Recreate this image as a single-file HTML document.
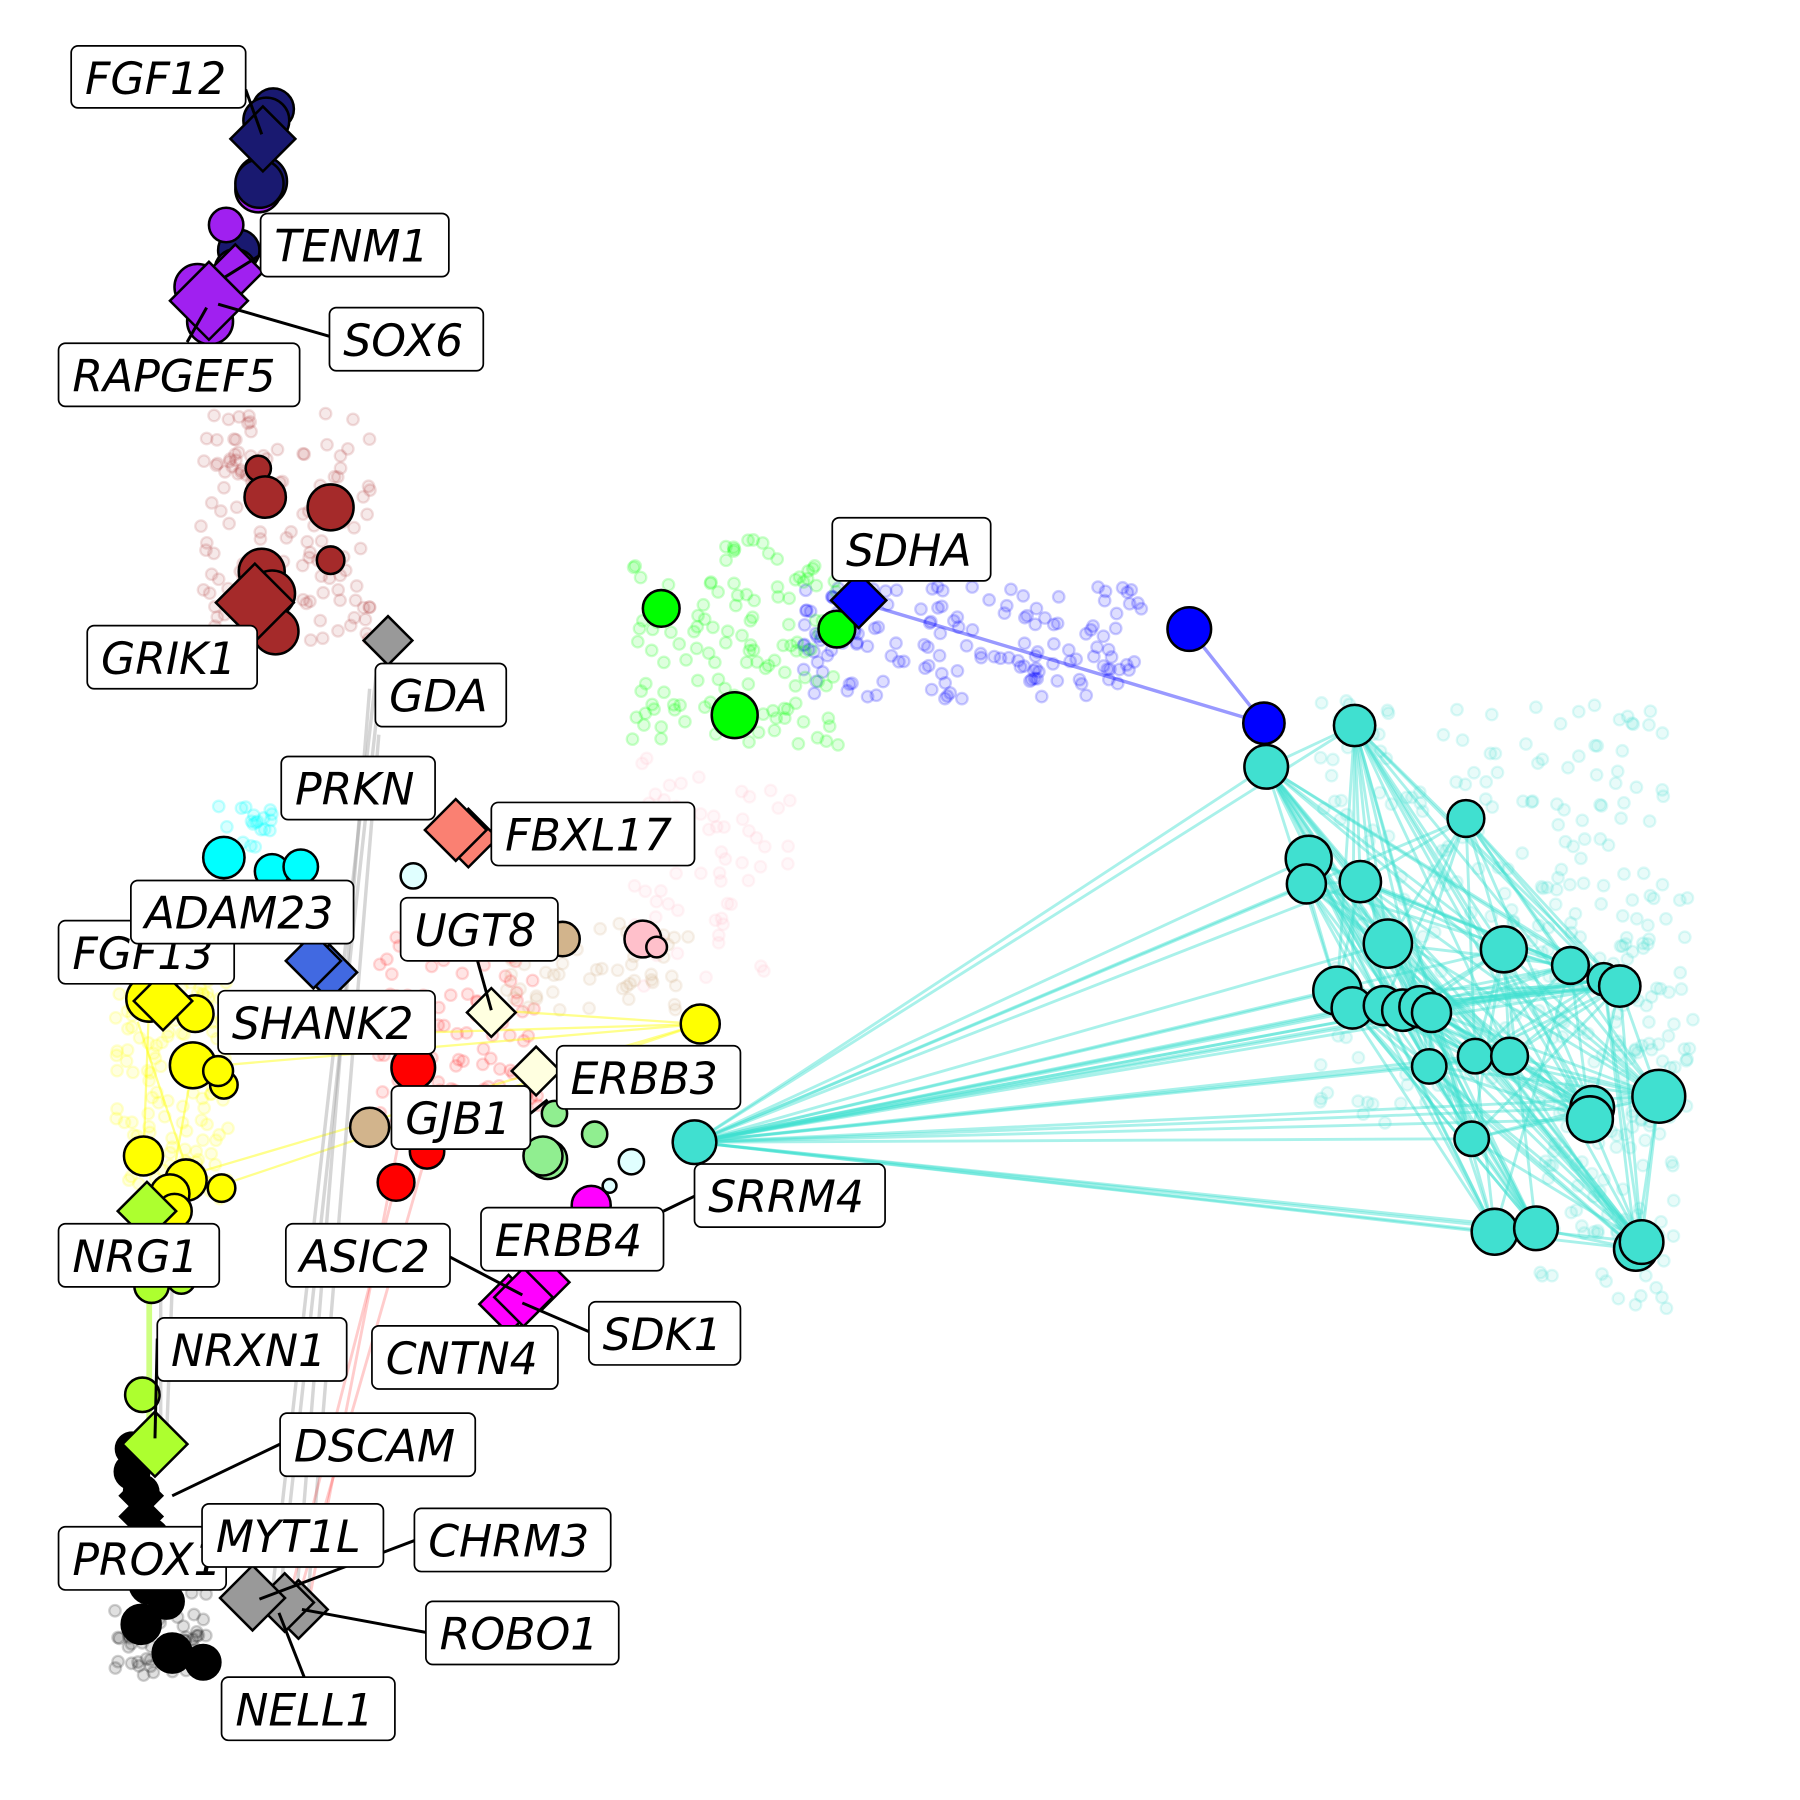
<!DOCTYPE html>
<html><head><meta charset="utf-8"><style>
html,body{margin:0;padding:0;background:#fff;width:1800px;height:1800px;overflow:hidden}
svg{display:block}
.lb rect{fill:#fff;stroke:#000;stroke-width:1.5}
.lb text{font-family:"DejaVu Sans","Liberation Sans",sans-serif;font-style:oblique;font-size:38.5px;fill:#000}
.n{stroke:#000;stroke-width:2.2}
.ld{stroke:#000;stroke-width:2.6;fill:none}
</style></head><body>
<svg id="s" width="1800" height="1800" viewBox="0 0 1568 1568" xmlns="http://www.w3.org/2000/svg">
<g id="faint"></g>
<g stroke="#40e0d0" stroke-opacity="0.45" stroke-width="2.5" id="tq"></g>
<g stroke="#0000ff" stroke-opacity="0.4" stroke-width="3">
<line x1="760" y1="528" x2="1101" y2="630"/><line x1="1036" y1="548" x2="1101" y2="630"/></g>
<g stroke="#ffff00" stroke-opacity="0.45" stroke-width="2">
<line x1="610" y1="892" x2="190" y2="905"/><line x1="610" y1="892" x2="170" y2="930"/><line x1="610" y1="892" x2="430" y2="880"/><line x1="610" y1="892" x2="200" y2="1030"/><line x1="610" y1="892" x2="160" y2="1025"/>
<line x1="130" y1="870" x2="125" y2="1007"/><line x1="168" y1="928" x2="148" y2="1040"/><line x1="120" y1="890" x2="160" y2="1010"/></g>
<g stroke="#999" stroke-opacity="0.4" stroke-width="3">
<line x1="333" y1="580" x2="245" y2="1380"/><line x1="328" y1="585" x2="238" y2="1380"/><line x1="322" y1="600" x2="258" y2="1395"/><line x1="330" y1="640" x2="268" y2="1395"/><line x1="140" y1="1120" x2="140" y2="1250"/><line x1="150" y1="1120" x2="145" y2="1255"/></g>
<g stroke="#ff0000" stroke-opacity="0.2" stroke-width="2.5">
<line x1="345" y1="1030" x2="255" y2="1380"/><line x1="372" y1="1003" x2="262" y2="1385"/><line x1="360" y1="930" x2="270" y2="1390"/></g>
<line x1="130" y1="1120" x2="130" y2="1260" stroke="#adff2f" stroke-opacity="0.6" stroke-width="5"/>
<g class="n">
<circle cx="238" cy="95" r="18" fill="#191970"/><circle cx="232" cy="105" r="20" fill="#191970"/>
<circle cx="228" cy="158" r="22" fill="#191970"/><circle cx="225" cy="165" r="20" fill="#a020f0"/><circle cx="226" cy="160" r="21" fill="#191970"/>
<rect x="209" y="101" width="40" height="40" fill="#191970" transform="rotate(45 229 121)"/>
<circle cx="208" cy="218" r="18" fill="#191970"/><circle cx="197" cy="196" r="15" fill="#a020f0"/>
<circle cx="205" cy="235" r="18" fill="#a020f0"/><circle cx="172" cy="250" r="20" fill="#a020f0"/><circle cx="183" cy="280" r="20" fill="#a020f0"/>
<rect x="188" y="220" width="34" height="34" fill="#a020f0" transform="rotate(45 205 237)"/>
<rect x="158" y="238" width="48" height="48" fill="#a020f0" transform="rotate(45 182 262)"/>
<circle cx="225" cy="408" r="11" fill="#a52a2a"/><circle cx="231" cy="433" r="18" fill="#a52a2a"/><circle cx="288" cy="442" r="20" fill="#a52a2a"/><circle cx="288" cy="488" r="12" fill="#a52a2a"/>
<circle cx="228" cy="498" r="20" fill="#a52a2a"/><circle cx="237" cy="517" r="20" fill="#a52a2a"/><circle cx="240" cy="550" r="20" fill="#a52a2a"/>
<rect x="198" y="501" width="48" height="48" fill="#a52a2a" transform="rotate(45 222 525)"/>
<rect x="323" y="543" width="30" height="30" fill="#999" transform="rotate(45 338 558)"/>
<circle cx="576" cy="530" r="16" fill="#00ff00"/><circle cx="640" cy="623" r="20" fill="#00ff00"/><circle cx="729" cy="548" r="16" fill="#00ff00"/>
<rect x="731" y="506" width="34" height="34" fill="#0000ff" transform="rotate(45 748 523)"/>
<circle cx="1036" cy="548" r="19" fill="#0000ff"/><circle cx="1101" cy="630" r="18" fill="#0000ff"/>
<rect x="390" y="712" width="36" height="36" fill="#fa8072" transform="rotate(45 408 730)"/>
<rect x="378" y="704" width="38" height="38" fill="#fa8072" transform="rotate(45 397 723)"/>
<circle cx="195" cy="747" r="18" fill="#00ffff"/><circle cx="237" cy="759" r="15" fill="#00ffff"/><circle cx="262" cy="755" r="15" fill="#00ffff"/><circle cx="360" cy="763" r="11" fill="#e0ffff"/>
<circle cx="490" cy="818" r="15" fill="#d2b48c"/><circle cx="560" cy="818" r="16" fill="#ffc0cb"/><circle cx="572" cy="825" r="9" fill="#ffc0cb"/>
<rect x="270" y="830" width="34" height="34" fill="#4169e1" transform="rotate(45 287 847)"/>
<rect x="256" y="820" width="34" height="34" fill="#4169e1" transform="rotate(45 273 837)"/>
<circle cx="130" cy="870" r="20" fill="#ffff00"/><circle cx="170" cy="883" r="16" fill="#ffff00"/><circle cx="168" cy="928" r="20" fill="#ffff00"/><circle cx="195" cy="945" r="12" fill="#ffff00"/><circle cx="190" cy="933" r="13" fill="#ffff00"/>
<rect x="124" y="854" width="36" height="36" fill="#ffff00" transform="rotate(45 142 872)"/>
<circle cx="610" cy="892" r="17" fill="#ffff00"/>
<rect x="413" y="867" width="30" height="30" fill="#ffffe0" transform="rotate(45 428 882)"/>
<rect x="452" y="918" width="30" height="30" fill="#ffffe0" transform="rotate(45 467 933)"/>
<circle cx="360" cy="930" r="19" fill="#ff0000"/><circle cx="372" cy="1003" r="15" fill="#ff0000"/><circle cx="345" cy="1030" r="16" fill="#ff0000"/>
<circle cx="322" cy="982" r="17" fill="#d2b48c"/>
<circle cx="483" cy="970" r="11" fill="#90ee90"/><circle cx="518" cy="988" r="11" fill="#90ee90"/><circle cx="477" cy="1010" r="17" fill="#90ee90"/><circle cx="473" cy="1007" r="17" fill="#90ee90"/>
<circle cx="550" cy="1012" r="11" fill="#e0ffff"/><circle cx="531" cy="1033" r="6" fill="#e0ffff"/>
<circle cx="125" cy="1007" r="17" fill="#ffff00"/><circle cx="162" cy="1028" r="18" fill="#ffff00"/><circle cx="148" cy="1040" r="17" fill="#ffff00"/><circle cx="193" cy="1035" r="12" fill="#ffff00"/><circle cx="152" cy="1055" r="15" fill="#ffff00"/>
<rect x="110" y="1037" width="36" height="36" fill="#adff2f" transform="rotate(45 128 1055)"/>
<circle cx="132" cy="1120" r="15" fill="#adff2f"/><circle cx="158" cy="1115" r="12" fill="#adff2f"/>
<circle cx="515" cy="1050" r="17" fill="#ff00ff"/>
<rect x="455" y="1100" width="34" height="34" fill="#ff00ff" transform="rotate(45 472 1117)"/>
<rect x="425" y="1118" width="36" height="36" fill="#ff00ff" transform="rotate(45 443 1136)"/>
<rect x="438" y="1112" width="36" height="36" fill="#ff00ff" transform="rotate(45 456 1130)"/>
<circle cx="124" cy="1215" r="15" fill="#adff2f"/>
<circle cx="115" cy="1262" r="14" fill="#000"/><circle cx="115" cy="1282" r="15" fill="#000"/><circle cx="123" cy="1300" r="15" fill="#000"/>
<rect x="110" y="1290" width="26" height="26" fill="#000" transform="rotate(45 123 1303)"/><rect x="110" y="1308" width="26" height="26" fill="#000" transform="rotate(45 123 1321)"/>
<rect x="115" y="1238" width="40" height="40" fill="#adff2f" transform="rotate(45 135 1258)"/>
<circle cx="130" cy="1340" r="17" fill="#000"/><circle cx="130" cy="1380" r="17" fill="#000"/><circle cx="145" cy="1395" r="15" fill="#000"/>
<circle cx="123" cy="1415" r="17" fill="#000"/><circle cx="150" cy="1440" r="17" fill="#000"/><circle cx="177" cy="1448" r="15" fill="#000"/>
<rect x="242" y="1384" width="36" height="36" fill="#999" transform="rotate(45 260 1402)"/>
<rect x="230" y="1378" width="36" height="36" fill="#999" transform="rotate(45 248 1396)"/>
<rect x="200" y="1372" width="40" height="40" fill="#999" transform="rotate(45 220 1392)"/>
</g>
<g class="n" fill="#40e0d0" id="tqn"></g>
<g class="ld">
<line x1="214" y1="78" x2="228" y2="117"/><line x1="227" y1="222" x2="195" y2="242"/><line x1="287" y1="293" x2="190" y2="265"/><line x1="163" y1="298" x2="180" y2="268"/>
<line x1="416" y1="837" x2="428" y2="880"/><line x1="462" y1="970" x2="477" y2="958"/><line x1="605" y1="1042" x2="578" y2="1055"/>
<line x1="392" y1="1095" x2="455" y2="1128"/><line x1="513" y1="1160" x2="455" y2="1135"/>
<line x1="137" y1="1166" x2="135" y2="1253"/><line x1="244" y1="1258" x2="150" y2="1303"/><line x1="361" y1="1342" x2="226" y2="1393"/>
<line x1="371" y1="1422" x2="263" y2="1402"/><line x1="265" y1="1461" x2="243" y2="1405"/>
</g>
<g class="lb">
<rect x="62" y="40" width="152" height="54" rx="6"/><text x="74" y="82">FGF12</text>
<rect x="227" y="186" width="164" height="55" rx="6"/><text x="239" y="228">TENM1</text>
<rect x="287" y="268" width="134" height="55" rx="6"/><text x="299" y="310">SOX6</text>
<rect x="51" y="299" width="210" height="55" rx="6"/><text x="63" y="341">RAPGEF5</text>
<rect x="76" y="545" width="148" height="55" rx="6"/><text x="88" y="587">GRIK1</text>
<rect x="327" y="578" width="114" height="55" rx="6"/><text x="339" y="620">GDA</text>
<rect x="725" y="451" width="138" height="55" rx="6"/><text x="737" y="493">SDHA</text>
<rect x="245" y="659" width="134" height="55" rx="6"/><text x="257" y="701">PRKN</text>
<rect x="428" y="699" width="177" height="55" rx="6"/><text x="440" y="741">FBXL17</text>
<rect x="51" y="802" width="153" height="55" rx="6"/><text x="63" y="844">FGF13</text>
<rect x="114" y="767" width="194" height="55" rx="6"/><text x="126" y="809">ADAM23</text>
<rect x="349" y="782" width="137" height="55" rx="6"/><text x="361" y="824">UGT8</text>
<rect x="190" y="863" width="189" height="55" rx="6"/><text x="202" y="905">SHANK2</text>
<rect x="485" y="911" width="160" height="55" rx="6"/><text x="497" y="953">ERBB3</text>
<rect x="341" y="946" width="121" height="55" rx="6"/><text x="353" y="988">GJB1</text>
<rect x="605" y="1014" width="166" height="55" rx="6"/><text x="617" y="1056">SRRM4</text>
<rect x="51" y="1066" width="140" height="55" rx="6"/><text x="63" y="1108">NRG1</text>
<rect x="249" y="1066" width="143" height="55" rx="6"/><text x="261" y="1108">ASIC2</text>
<rect x="419" y="1052" width="159" height="55" rx="6"/><text x="431" y="1094">ERBB4</text>
<rect x="513" y="1134" width="132" height="55" rx="6"/><text x="525" y="1176">SDK1</text>
<rect x="137" y="1148" width="165" height="55" rx="6"/><text x="149" y="1190">NRXN1</text>
<rect x="324" y="1155" width="162" height="55" rx="6"/><text x="336" y="1197">CNTN4</text>
<rect x="244" y="1231" width="170" height="55" rx="6"/><text x="256" y="1273">DSCAM</text>
<rect x="51" y="1330" width="146" height="55" rx="6"/><text x="63" y="1372">PROX1</text>
<rect x="176" y="1310" width="158" height="55" rx="6"/><text x="188" y="1352">MYT1L</text>
<rect x="361" y="1314" width="171" height="55" rx="6"/><text x="373" y="1356">CHRM3</text>
<rect x="371" y="1395" width="168" height="55" rx="6"/><text x="383" y="1437">ROBO1</text>
<rect x="193" y="1461" width="151" height="55" rx="6"/><text x="205" y="1503">NELL1</text>
</g>
</svg>
<script>
(function(){
var NS="http://www.w3.org/2000/svg";
var seed=7;function r(){seed=(seed*16807)%2147483647;return seed/2147483647;}
var tq=[[1180,632,16],[1103,668,17],[1277,713,14],[1140,748,18],[1138,770,15],[1185,768,16],[1209,822,19],[1310,827,18],[1368,841,14],[1397,853,12],[1411,859,16],[1165,863,19],[1178,878,16],[1205,876,15],[1222,880,16],[1237,877,16],[1247,882,15],[1245,929,13],[1285,920,13],[1315,920,14],[1445,955,21],[1387,965,17],[1385,975,18],[1282,992,13],[1302,1073,18],[1338,1070,17],[1425,1088,17],[1430,1082,17],[605,995,17]];
var f=document.getElementById("faint");
function cloud(col,cx,cy,sx,sy,n,op){for(var i=0;i<n;i++){var c=document.createElementNS(NS,"circle");c.setAttribute("cx",cx+(r()-0.5)*sx);c.setAttribute("cy",cy+(r()-0.5)*sy);c.setAttribute("r",5);c.setAttribute("fill",col);c.setAttribute("fill-opacity",op);c.setAttribute("stroke",col);c.setAttribute("stroke-opacity",op*1.5);c.setAttribute("stroke-width",2);f.appendChild(c);}}
cloud("#40e0d0",1300,800,300,380,250,0.12);cloud("#40e0d0",1400,1050,120,180,80,0.12);cloud("#40e0d0",1440,880,70,200,50,0.12);
cloud("#0000ff",850,560,300,100,150,0.13);cloud("#00ff00",640,560,180,180,130,0.13);
cloud("#a52a2a",250,460,150,200,140,0.1);cloud("#ff0000",400,900,140,180,110,0.1);
cloud("#ffff00",150,950,100,200,150,0.12);cloud("#ffc0cb",620,760,140,200,60,0.12);
cloud("#d2b48c",520,840,160,80,50,0.12);cloud("#000",140,1420,80,80,60,0.12);cloud("#00ffff",220,720,60,40,20,0.15);
var g=document.getElementById("tq");
for(var i=0;i<tq.length-1;i++){var l=document.createElementNS(NS,"line");l.setAttribute("x1",605);l.setAttribute("y1",995);l.setAttribute("x2",tq[i][0]);l.setAttribute("y2",tq[i][1]);g.appendChild(l);}
for(var i=0;i<tq.length-1;i++)for(var j=i+1;j<tq.length-1;j++){if(r()<0.45){var l=document.createElementNS(NS,"line");l.setAttribute("x1",tq[i][0]);l.setAttribute("y1",tq[i][1]);l.setAttribute("x2",tq[j][0]);l.setAttribute("y2",tq[j][1]);g.appendChild(l);}}
var n=document.getElementById("tqn");
tq.forEach(function(t){var c=document.createElementNS(NS,"circle");c.setAttribute("cx",t[0]);c.setAttribute("cy",t[1]);c.setAttribute("r",t[2]+2);n.appendChild(c);});
})();
</script>
</body></html>
